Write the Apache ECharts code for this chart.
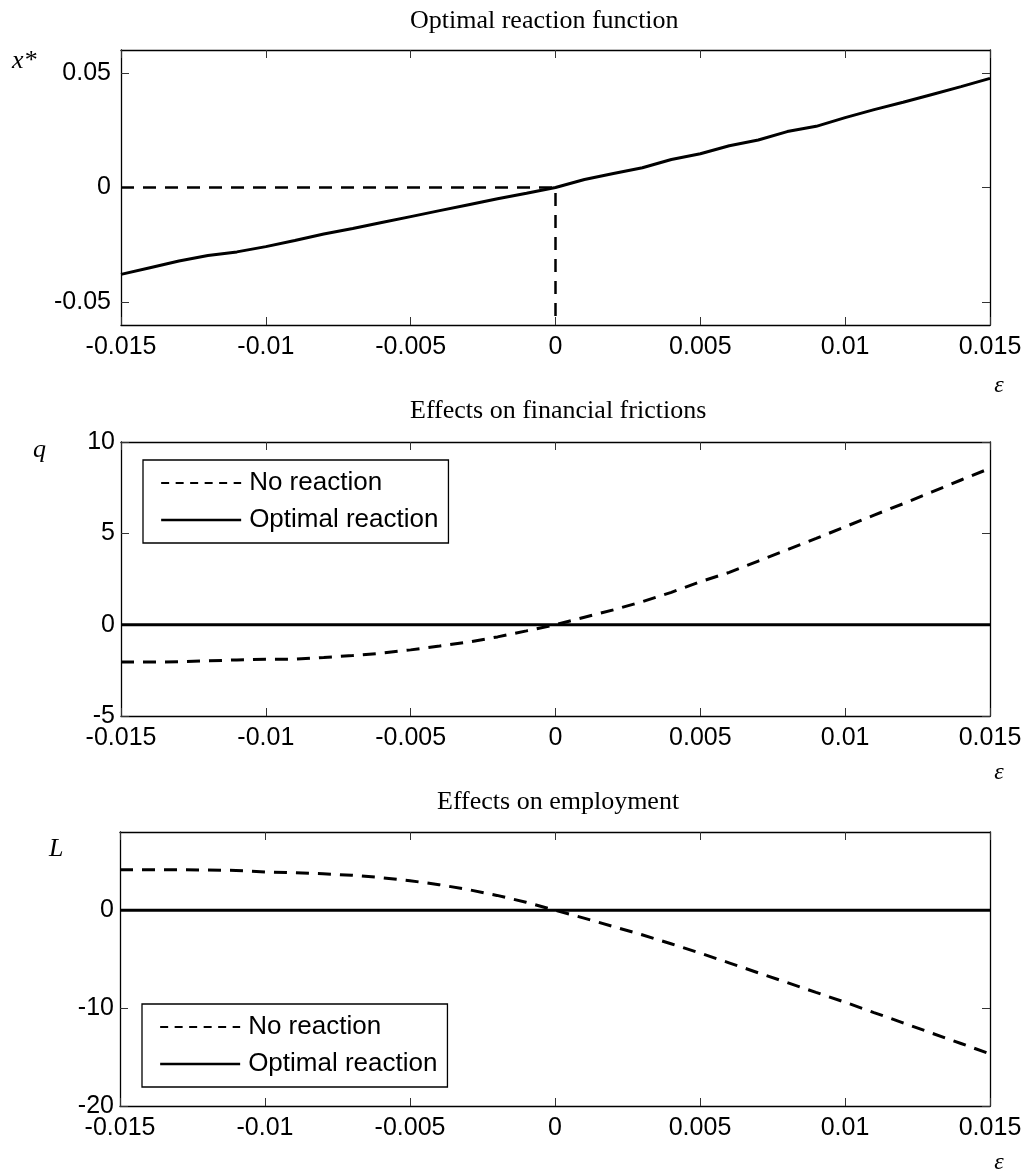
<!DOCTYPE html>
<html><head><meta charset="utf-8">
<script src="https://cdn.jsdelivr.net/npm/echarts@6/dist/echarts.min.js"></script>
<style>html,body{margin:0;padding:0;background:#fff}#c{width:1028px;height:1171px}</style>
</head><body><div id="c"></div>
<script>
// ---- data ----
const eps = [-0.015,-0.014,-0.013,-0.012,-0.011,-0.010,-0.009,-0.008,-0.007,-0.006,-0.005,-0.004,-0.003,-0.002,-0.001,
             0,0.001,0.002,0.003,0.004,0.005,0.006,0.007,0.008,0.009,0.010,0.011,0.012,0.013,0.014,0.015];
const xStar = [-0.0379,-0.0350,-0.0321,-0.0297,-0.0281,-0.0258,-0.0231,-0.0203,-0.0179,-0.0153,-0.0127,-0.0101,-0.0075,-0.0049,-0.0025,
               0,0.0035,0.0061,0.0086,0.0122,0.0147,0.0182,0.0207,0.0244,0.0267,0.0305,0.0340,0.0372,0.0406,0.0440,0.0476];
const guideX = [-0.015, 0, 0];
const guideY = [0, 0, -0.06];
const qNoReaction = [-2.05,-2.05,-2.03,-1.98,-1.93,-1.90,-1.89,-1.80,-1.69,-1.56,-1.38,-1.17,-0.95,-0.67,-0.34,
                     0,0.41,0.81,1.26,1.77,2.35,2.86,3.48,4.10,4.72,5.36,6.00,6.62,7.27,7.92,8.56];
const qOptimal = [0,0,0,0,0,0,0,0,0,0,0,0,0,0,0,0,0,0,0,0,0,0,0,0,0,0,0,0,0,0,0];
const LNoReaction = [4.14,4.14,4.14,4.12,4.07,3.92,3.84,3.73,3.58,3.34,3.02,2.62,2.12,1.52,0.82,
                     0,-0.80,-1.65,-2.50,-3.42,-4.37,-5.37,-6.38,-7.38,-8.39,-9.39,-10.45,-11.50,-12.56,-13.61,-14.68];
const LOptimal = [0,0,0,0,0,0,0,0,0,0,0,0,0,0,0,0,0,0,0,0,0,0,0,0,0,0,0,0,0,0,0];

const xTicks = [-0.015,-0.01,-0.005,0,0.005,0.01,0.015];
const xTickLabels = ['-0.015','-0.01','-0.005','0','0.005','0.01','0.015'];
const y1Ticks = [-0.05,0,0.05];
const y1TickLabels = ['-0.05','0','0.05'];
const y2Ticks = [-5,0,5,10];
const y2TickLabels = ['-5','0','5','10'];
const y3Ticks = [-20,-10,0];
const y3TickLabels = ['-20','-10','0'];

const titles = ['Optimal reaction function','Effects on financial frictions','Effects on employment'];
const yNames = ['x*','q','L'];
const xName = 'ε';
const legendNames = ['No reaction','Optimal reaction'];

// ---- helpers ----
const pair = (xs, ys) => xs.map((x, i) => [x, ys[i]]);
const lookup = (ticks, labels) => v => {
  let best = 0, d = Infinity;
  ticks.forEach((t, i) => { const dd = Math.abs(t - v); if (dd < d) { d = dd; best = i; } });
  return labels[best];
};
const SANS = '"Liberation Sans", Arial, sans-serif';
const SERIF = '"Liberation Serif", "Times New Roman", serif';
const axisLine = {show:true,onZero:false,lineStyle:{color:'#000',width:1.3}};
const tick = {show:true,inside:true,length:8,lineStyle:{color:'#333',width:1}};

const grids = [
  {left:121, top:50, width:869, height:275},
  {left:121, top:442, width:869, height:274},
  {left:120, top:832, width:870, height:274}
];

const xAxis = [], yAxis = [];
grids.forEach((g, gi) => {
  xAxis.push({type:'value', gridIndex:gi, position:'bottom', min:-0.015, max:0.015, interval:0.005,
    axisLine, axisTick:tick, splitLine:{show:false},
    axisLabel:{show:true, margin:10, color:'#000', fontSize:25, fontFamily:SANS, formatter: lookup(xTicks, xTickLabels)}});
  xAxis.push({type:'value', gridIndex:gi, position:'top', min:-0.015, max:0.015, interval:0.005,
    axisLine, axisTick:tick, splitLine:{show:false}, axisLabel:{show:false}});
});
const ySpecs = [
  {min:-0.06, max:0.06, ticks:y1Ticks, labels:y1TickLabels, margin:10},
  {min:-5, max:10, ticks:y2Ticks, labels:y2TickLabels, margin:6},
  {min:-20, max:8, ticks:y3Ticks, labels:y3TickLabels, margin:6}
];
ySpecs.forEach((s, gi) => {
  yAxis.push({type:'value', gridIndex:gi, position:'left', min:s.min, max:s.max,
    axisLine, splitLine:{show:false},
    axisTick:Object.assign({}, tick, {customValues:s.ticks}),
    axisLabel:{show:true, margin:s.margin, color:'#000', fontSize:25, fontFamily:SANS,
      customValues:s.ticks, formatter: lookup(s.ticks, s.labels)}});
  yAxis.push({type:'value', gridIndex:gi, position:'right', min:s.min, max:s.max,
    axisLine, splitLine:{show:false},
    axisTick:Object.assign({}, tick, {customValues:s.ticks}),
    axisLabel:{show:false}});
});

const solid = {color:'#000', width:3, type:'solid'};
const dashed = {color:'#000', width:3, type:[13,9]};
const base = {type:'line', symbol:'none', showSymbol:false, silent:true, animation:false};

const series = [
  Object.assign({}, base, {name:'guide', xAxisIndex:0, yAxisIndex:0, data:pair(guideX, guideY), lineStyle:Object.assign({}, dashed, {width:2.5}), itemStyle:{color:'#000'}}),
  Object.assign({}, base, {name:'x*', xAxisIndex:0, yAxisIndex:0, data:pair(eps, xStar), lineStyle:solid, itemStyle:{color:'#000'}}),
  Object.assign({}, base, {name:legendNames[1], xAxisIndex:2, yAxisIndex:2, data:pair(eps, qOptimal), lineStyle:solid, itemStyle:{color:'#000'}}),
  Object.assign({}, base, {name:legendNames[0], xAxisIndex:2, yAxisIndex:2, data:pair(eps, qNoReaction), lineStyle:dashed, itemStyle:{color:'#000'}}),
  Object.assign({}, base, {name:legendNames[1], xAxisIndex:4, yAxisIndex:4, data:pair(eps, LOptimal), lineStyle:solid, itemStyle:{color:'#000'}}),
  Object.assign({}, base, {name:legendNames[0], xAxisIndex:4, yAxisIndex:4, data:pair(eps, LNoReaction), lineStyle:dashed, itemStyle:{color:'#000'}})
];

const legendData = [
  {name:legendNames[0], lineStyle:{type:[8,6.5], width:2}, itemStyle:{opacity:0}},
  {name:legendNames[1], lineStyle:{type:'solid', width:2.3}, itemStyle:{opacity:0}}
];
const legendBase = {orient:'vertical', itemWidth:80, itemHeight:16, itemGap:11,
  padding:[10,10,10,17], borderColor:'#000', borderWidth:1.3, backgroundColor:'#fff',
  selectedMode:false, data:legendData, itemStyle:{opacity:0},
  textStyle:{color:'#000', fontSize:26, fontFamily:SANS, padding:[0,0,0,3]}};
const legend = [
  Object.assign({}, legendBase, {left:143, top:460}),
  Object.assign({}, legendBase, {left:142, top:1004})
];

const txt = (text, x, y, font, align) => ({type:'text', x, y, silent:true,
  style:{text, fill:'#000', font, align:align||'left', verticalAlign:'middle'}});
const graphic = [
  txt(titles[0], 410, 21.5, '26px ' + SERIF),
  txt(titles[1], 410, 411.5, '26px ' + SERIF),
  txt(titles[2], 437, 802, '26px ' + SERIF),
  txt(yNames[0], 12, 61, 'italic 26px ' + SERIF),
  txt(yNames[1], 33, 450.5, 'italic 26px ' + SERIF),
  txt(yNames[2], 49, 849, 'italic 26px ' + SERIF),
  txt(xName, 999, 386, 'italic 24px ' + SERIF, 'center'),
  txt(xName, 999, 773, 'italic 24px ' + SERIF, 'center'),
  txt(xName, 999, 1163, 'italic 24px ' + SERIF, 'center')
];

const chart = echarts.init(document.getElementById('c'), null, {renderer:'canvas'});
chart.setOption({animation:false, backgroundColor:'#fff', grid:grids, xAxis, yAxis, series, legend, graphic});
</script></body></html>
